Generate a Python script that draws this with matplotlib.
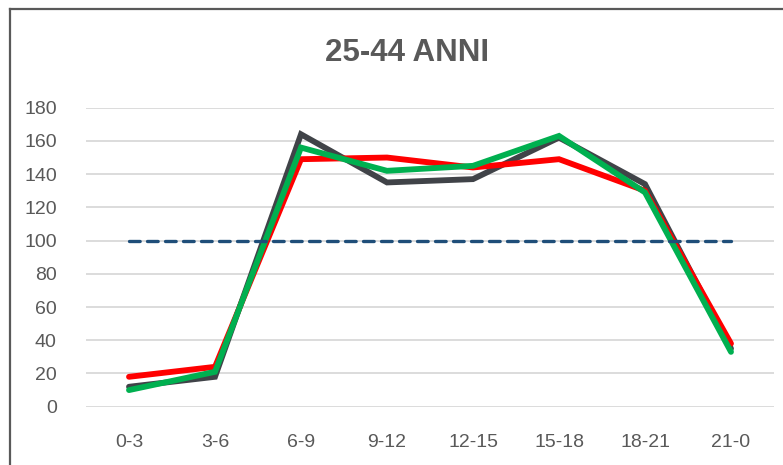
import matplotlib
matplotlib.use("Agg")
import matplotlib.pyplot as plt
from matplotlib.lines import Line2D

plt.rcParams['font.family'] = ['Liberation Sans', 'DejaVu Sans']

categories = ["0-3", "3-6", "6-9", "9-12", "12-15", "15-18", "18-21", "21-0"]
series_grey = [12, 18, 164, 135, 137, 162, 134, 35]
series_red = [18, 24, 149, 150, 144, 149, 130, 38]
series_green = [10, 21, 156, 142, 145, 163, 129, 33]
reference = [100] * len(categories)
yticks = [0, 20, 40, 60, 80, 100, 120, 140, 160, 180]
title = "25-44 ANNI"

W, H = 783, 465
fig = plt.figure(figsize=(W / 100, H / 100), dpi=100)
ax = fig.add_axes([86 / W, (H - 406.7) / H, (774 - 86) / W, (406.7 - 107.7) / H])

x = list(range(len(categories)))
common = dict(lw=4.2, solid_capstyle="round", solid_joinstyle="miter")
ax.plot(x, series_grey, color="#404348", zorder=3, **common)
ax.plot(x, series_red, color="#ff0000", zorder=4, **common)
ax.plot(x, series_green, color="#00b050", zorder=5, **common)
ax.plot(x, reference, color="#1f4e79", lw=2.4, dashes=(3.2, 2.2), dash_capstyle="round", zorder=6)

ax.set_xlim(-0.5, len(categories) - 0.5)
ax.set_ylim(0, 180)
ax.set_yticks(yticks)
ax.set_xticks(x)
ax.set_xticklabels(categories)
ax.grid(axis="y", color="#d9d9d9", lw=1.3, zorder=0)
ax.set_axisbelow(True)
for s in ax.spines.values():
    s.set_visible(False)
ax.tick_params(axis="both", length=0, labelsize=14, labelcolor="#595959")
ax.tick_params(axis="y", pad=21)
ax.tick_params(axis="x", pad=20)

fig.text(407 / W, 1 - 53 / H, title, ha="center", va="center", fontsize=22.5,
         fontweight="bold", color="#595959")

# outer chart border (left and top visible)
fig.add_artist(Line2D([9.5 / W, 9.5 / W], [0, 1 - 9.5 / H], color="#595959", lw=1.6, transform=fig.transFigure))
fig.add_artist(Line2D([9.5 / W, 1], [1 - 9.5 / H, 1 - 9.5 / H], color="#595959", lw=1.6, transform=fig.transFigure))

fig.savefig("out.png", dpi=100)
